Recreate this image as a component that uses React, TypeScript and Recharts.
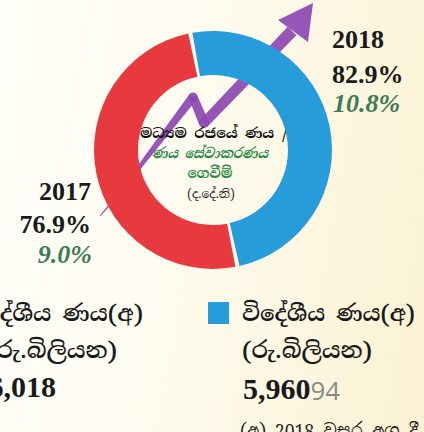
import React from 'react';
import { PieChart, Pie, Cell, Customized } from 'recharts';

// ---- data ----
const sliceNames = ['විදේශීය ණය', 'දේශීය ණය'];
const sliceValues = [5960, 6018];
const sliceColors = ['#269CDA', '#E8393F'];

const years = ['2017', '2018'];
const debtToGdp = ['76.9%', '82.9%'];
const debtServiceToGdp = ['9.0%', '10.8%'];

const legendTitles = ['දේශීය ණය(අ)', 'විදේශීය ණය(අ)'];
const legendUnit = '(රු.බිලියන)';
const legendValues = ['6,018', '5,960'];
const centerLines = ['මධ්‍යම රජයේ ණය /', 'ණය සේවාකරණය', 'ගෙවීම්', '(ද.දේ.නි)'];
const footnote = '(අ) 2018 වසර අග දී';
const pageNumber = '94';

const pieData = sliceNames.map((name, i) => ({ name, value: sliceValues[i] }));

const SERIF = '"Liberation Serif", "DejaVu Serif", "Noto Serif Sinhala", "Noto Sans Sinhala", serif';
const SIN = '"Noto Serif Sinhala", "Noto Sans Sinhala", "Iskoola Pota", "Liberation Serif", serif';

type P = [number, number];
function taperedSegments(pts: P[], widths: number[]) {
  const out: React.ReactNode[] = [];
  for (let i = 0; i < pts.length - 1; i++) {
    const [x0, y0] = pts[i];
    const [x1, y1] = pts[i + 1];
    const dx = x1 - x0, dy = y1 - y0;
    const len = Math.hypot(dx, dy);
    const nx = -dy / len, ny = dx / len;
    const a = widths[i] / 2, b = widths[i + 1] / 2;
    const d = `M${x0 + nx * a},${y0 + ny * a} L${x1 + nx * b},${y1 + ny * b} L${x1 - nx * b},${y1 - ny * b} L${x0 - nx * a},${y0 - ny * a} Z`;
    out.push(<path key={'s' + i} d={d} />);
    if (i > 0) out.push(<circle key={'c' + i} cx={x0} cy={y0} r={a} />);
  }
  return out;
}

const Overlay = () => {
  const line: P[] = [[100, 216], [118, 195], [193, 97], [204, 123], [292, 31]];
  const w = [1, 2.5, 9, 10, 12];
  return (
    <g>
      <g fill="#8C48B3" fillOpacity={0.92}>
        {taperedSegments(line, w)}
        <path d="M313,3 L308,42 L278,20 Z" />
      </g>
      {/* centre text */}
      <text x={214} y={138} textAnchor="middle" fontFamily={SIN} fontSize={14} fontWeight={700} fill="#111" textLength={148} lengthAdjust="spacingAndGlyphs">{centerLines[0]}</text>
      <text x={210} y={158} textAnchor="middle" fontFamily={SIN} fontSize={14} fontWeight={700} fontStyle="italic" fill="#2A8A45" textLength={116} lengthAdjust="spacingAndGlyphs">{centerLines[1]}</text>
      <text x={210} y={178} textAnchor="middle" fontFamily={SIN} fontSize={14} fontWeight={700} fill="#2A8A45">{centerLines[2]}</text>
      <text x={211} y={198} textAnchor="middle" fontFamily={SIN} fontSize={12} fill="#222">{centerLines[3]}</text>

      {/* year labels */}
      <text x={332} y={48} fontFamily={SERIF} fontSize={26} fontWeight={700} fill="#1a1a1a">{years[1]}</text>
      <text x={332} y={83} fontFamily={SERIF} fontSize={26} fontWeight={700} fill="#1a1a1a">{debtToGdp[1]}</text>
      <text x={333} y={112} fontFamily={SERIF} fontSize={26} fontWeight={700} fontStyle="italic" fill="#3A7D52">{debtServiceToGdp[1]}</text>

      <text x={91} y={200} textAnchor="end" fontFamily={SERIF} fontSize={26} fontWeight={700} fill="#1a1a1a">{years[0]}</text>
      <text x={91} y={233} textAnchor="end" fontFamily={SERIF} fontSize={26} fontWeight={700} fill="#1a1a1a">{debtToGdp[0]}</text>
      <text x={92} y={263} textAnchor="end" fontFamily={SERIF} fontSize={26} fontWeight={700} fontStyle="italic" fill="#3A7D52">{debtServiceToGdp[0]}</text>

      {/* legends */}
      <text x={143} y={321} textAnchor="end" fontFamily={SIN} fontSize={22} fontWeight={600} fill="#1a1a1a" textLength={158} lengthAdjust="spacingAndGlyphs">{legendTitles[0]}</text>
      <text x={117} y={358} textAnchor="end" fontFamily={SIN} fontSize={22} fontWeight={600} fill="#1a1a1a" textLength={130} lengthAdjust="spacingAndGlyphs">{legendUnit}</text>
      <text x={56} y={397} textAnchor="end" fontFamily={SERIF} fontSize={30} fontWeight={700} fill="#1a1a1a">{legendValues[0]}</text>

      <rect x={208} y={302} width={21} height={22} fill={sliceColors[0]} />
      <text x={242} y={321} fontFamily={SIN} fontSize={22} fontWeight={600} fill="#1a1a1a" textLength={173} lengthAdjust="spacingAndGlyphs">{legendTitles[1]}</text>
      <text x={242} y={358} fontFamily={SIN} fontSize={22} fontWeight={600} fill="#1a1a1a" textLength={130} lengthAdjust="spacingAndGlyphs">{legendUnit}</text>
      <text x={243} y={399} fontFamily={SERIF} fontSize={30} fontWeight={700} fill="#1a1a1a">
        {legendValues[1]}
        <tspan fontFamily='"Open Sans", sans-serif' fontWeight={400} fontSize={26} fill="#8a8a8a" dy={1}>{pageNumber}</tspan>
      </text>
      <text x={240} y={438} fontFamily={SIN} fontSize={20} fill="#1a1a1a" textLength={178} lengthAdjust="spacingAndGlyphs">{footnote}</text>
    </g>
  );
};

export default function App() {
  return (
    <div style={{ position: 'fixed', left: 0, top: 0, width: 424, height: 432, overflow: 'hidden',
      background: 'linear-gradient(100deg, #FFFEF8 0%, #FEFBEF 45%, #FBF2D2 100%)' }}>
      <PieChart width={424} height={432} margin={{ top: 0, right: 0, bottom: 0, left: 0 }}>
        <Pie
          data={pieData}
          dataKey="value"
          nameKey="name"
          cx={213}
          cy={150}
          innerRadius={75}
          outerRadius={119}
          startAngle={100}
          endAngle={-260}
          paddingAngle={2}
          stroke="none"
          isAnimationActive={false}
        >
          {pieData.map((d, i) => (
            <Cell key={d.name} fill={sliceColors[i]} />
          ))}
        </Pie>
        <Customized component={Overlay} />
      </PieChart>
    </div>
  );
}
